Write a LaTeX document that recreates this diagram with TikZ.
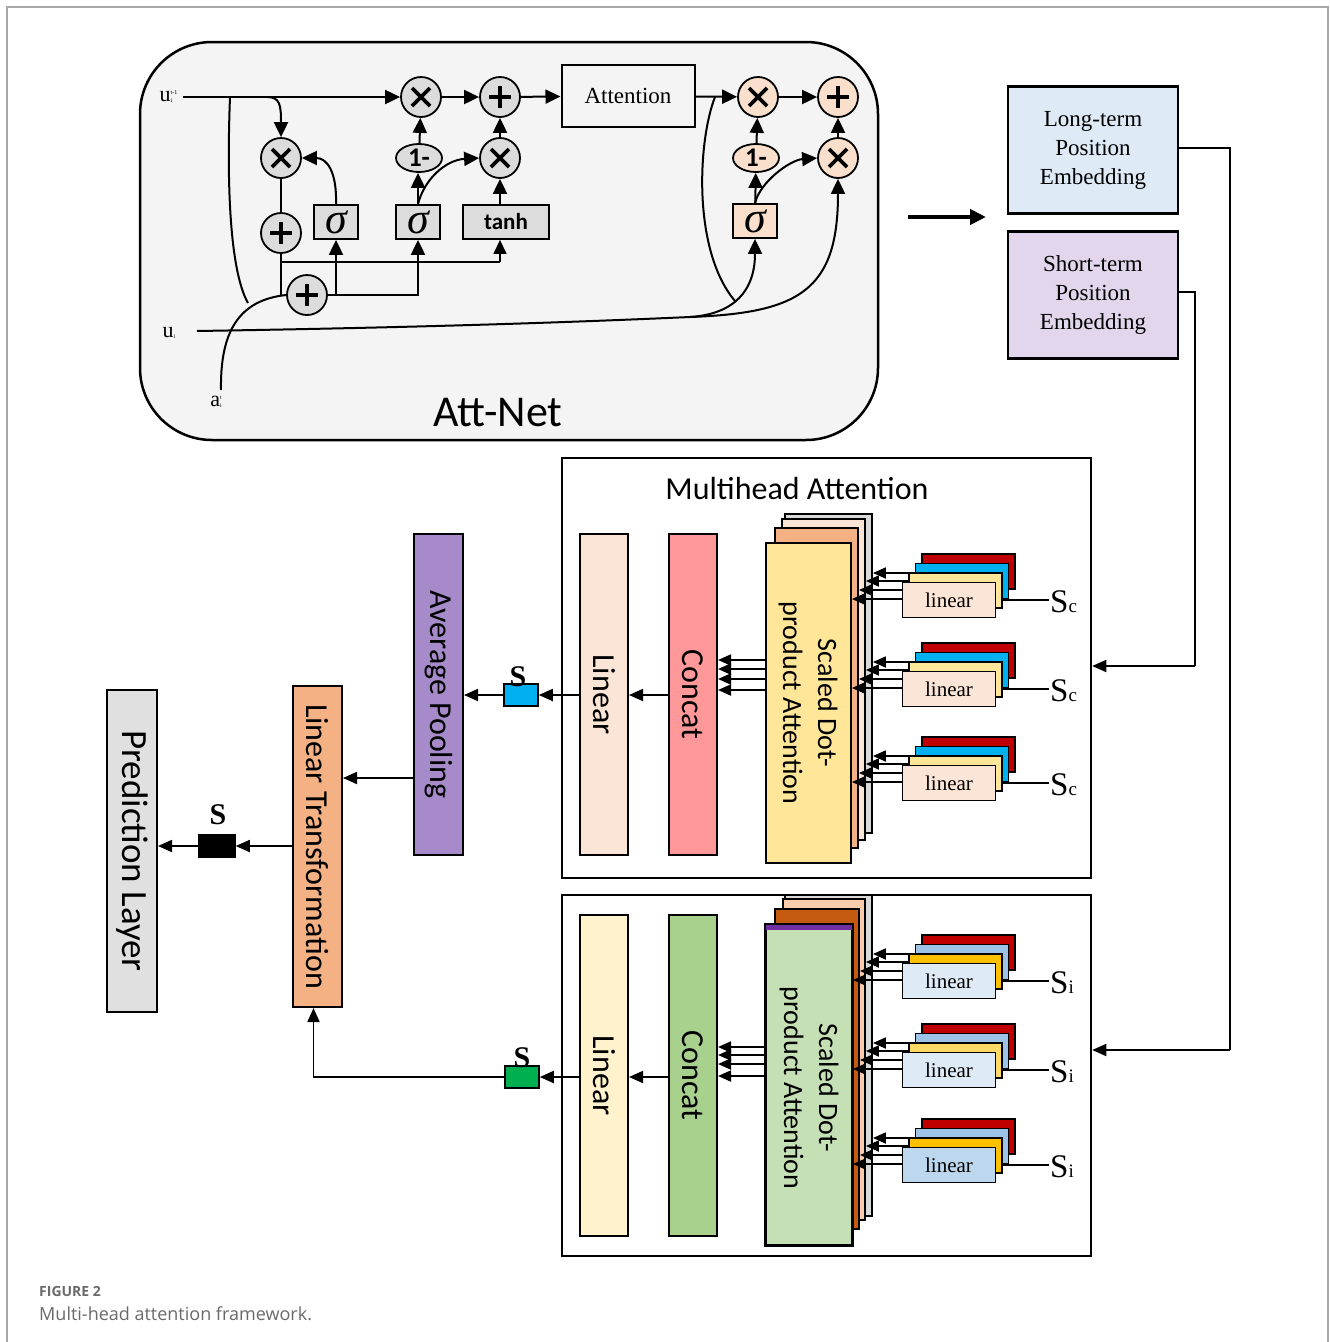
\documentclass[tikz,border=0pt]{standalone}
\usepackage{fontspec}
\setmainfont{Liberation Serif}
\newfontfamily\sff{Carlito}
\newfontfamily\capf{Open Sans}
\usetikzlibrary{shapes.geometric,arrows.meta,calc}
\definecolor{attbg}{HTML}{F4F4F4}
\definecolor{opgray}{HTML}{DCDCDC}
\definecolor{peach}{HTML}{FADFCC}
\definecolor{ltblue}{HTML}{DEEBF7}
\definecolor{stpurple}{HTML}{E2D6EC}
\definecolor{linApk}{HTML}{FBE5D6}
\definecolor{concatA}{HTML}{FF9999}
\definecolor{stgray}{HTML}{D9D9D9}
\definecolor{stpeach}{HTML}{F4B183}
\definecolor{styellow}{HTML}{FFE699}
\definecolor{linB}{HTML}{FFF2CC}
\definecolor{concatB}{HTML}{A9D18E}
\definecolor{stpeachB}{HTML}{F8CBAD}
\definecolor{stbrown}{HTML}{C55A11}
\definecolor{stgreen}{HTML}{C5E0B4}
\definecolor{stviolet}{HTML}{7030A0}
\definecolor{gred}{HTML}{C00000}
\definecolor{gblue}{HTML}{00B0F0}
\definecolor{gblueB}{HTML}{9DC3E6}
\definecolor{ggold}{HTML}{FFC000}
\definecolor{ggoldL}{HTML}{FFD966}
\definecolor{gfrontB}{HTML}{DEEBF7}
\definecolor{gfrontB3}{HTML}{BDD7EE}
\definecolor{avgp}{HTML}{A68AC9}
\definecolor{predg}{HTML}{E0E0E0}
\definecolor{sblue}{HTML}{00B0F0}
\definecolor{sgreen}{HTML}{00B050}
\definecolor{capgray}{HTML}{6A6A6A}
\definecolor{framegray}{HTML}{A8A8A8}

\tikzset{
  every node/.style={inner sep=0pt},
  opc/.style={circle, draw, line width=1.8pt, minimum size=40pt, fill=opgray},
  mulop/.style={opc, path picture={\draw[line width=3.8pt]
      ([shift={(-9pt,-9pt)}]path picture bounding box.center) -- ([shift={(9pt,9pt)}]path picture bounding box.center)
      ([shift={(-9pt,9pt)}]path picture bounding box.center) -- ([shift={(9pt,-9pt)}]path picture bounding box.center);}},
  addop/.style={opc, path picture={\draw[line width=3.4pt]
      ([shift={(-11pt,0pt)}]path picture bounding box.center) -- ([shift={(11pt,0pt)}]path picture bounding box.center)
      ([shift={(0pt,-11pt)}]path picture bounding box.center) -- ([shift={(0pt,11pt)}]path picture bounding box.center);}},
  gate/.style={draw, line width=1.8pt, fill=opgray, minimum width=44pt, minimum height=34pt, font=\fontsize{44}{44}\selectfont\itshape},
  onem/.style={ellipse, draw, line width=1.8pt, fill=opgray, minimum width=46pt, minimum height=28pt, font=\sff\bfseries\fontsize{27}{27}\selectfont},
  aarr/.style={-{Triangle[length=15pt,width=14pt]}, line width=2pt},
  thinl/.style={line width=1.1pt},
  curv/.style={line width=2pt},
  marr/.style={-{Triangle[length=14pt,width=12pt]}, line width=1.8pt},
  sarr/.style={-{Triangle[length=13pt,width=11pt]}, line width=1.8pt},
  vbox/.style={draw, line width=2pt, minimum width=48pt, minimum height=321pt},
  vlabel/.style={rotate=-90, font=\sff\fontsize{32}{32}\selectfont},
  stk/.style={draw, line width=1.8pt},
  lay/.style={draw, line width=1.8pt, minimum width=93pt, minimum height=35pt, font=\fontsize{21}{21}\selectfont},
  embox/.style={draw, line width=2.5pt, minimum width=170pt, minimum height=127pt, align=center, font=\fontsize{23}{29}\selectfont},
  sbox/.style={draw, line width=1.5pt, minimum width=34pt, minimum height=22pt},
  slabel/.style={font=\fontsize{30}{30}\selectfont\bfseries},
}

% #1 name, #2 cy, #3 red, #4 blue, #5 yellow, #6 front, #7 stack prefix, #8 subscript
\newcommand\lingroup[8]{%
  \coordinate (#1a) at (921,{#2-27});
  \coordinate (#1b) at (915,{#2-19});
  \coordinate (#1c) at (908,{#2-10});
  \coordinate (#1d) at (903,{#2-1});
  \draw[sarr] (#1a) -- (#1a -| #7a.east);
  \draw[sarr] (#1b) -- (#1b -| #7b.east);
  \draw[sarr] (#1c) -- (#1c -| #7c.east);
  \draw[sarr] (#1d) -- (#1d -| #7d.east);
  \node[lay, fill=#3] (#1r) at (968.5,{#2-28.5}) {};
  \node[lay, fill=#4] (#1u) at (962,{#2-19}) {};
  \node[lay, fill=#5] (#1y) at (955.5,{#2-9.5}) {};
  \node[lay, fill=#6] (#1f) at (949,#2) {linear};
  \coordinate (#1s) at (1049,#2);
  \draw[thinl] (#1s) -- (#1s -| #1y.east);
  \node[anchor=west] (#1lbl) at (1050,{#2+2}) {{\fontsize{33}{33}\selectfont S}{\fontsize{19}{19}\selectfont #8}};
}

\begin{document}
\begin{tikzpicture}[x=1pt,y=-1pt]
\useasboundingbox (0,0) rectangle (1330,1342);
\fill[white] (0,0) rectangle (1330,1342);
\draw[framegray, line width=1.5pt] (7,1342) -- (7,7) -- (1328,7) -- (1328,1342);

% ================= Att-Net =================
\node[draw, line width=2.5pt, rounded corners=72pt, fill=attbg, minimum width=738pt, minimum height=398pt] (attnet) at (509,241) {};
\node[font=\sff\fontsize{44}{44}\selectfont] (attlbl) at (498,413) {Att-Net};

\node[mulop] (m1) at (421,97) {};
\node[addop] (p1) at (500,97) {};
\node[draw, line width=2pt, minimum width=133pt, minimum height=62pt, font=\fontsize{23}{23}\selectfont] (att) at (628,96) {Attention};
\node[mulop, fill=peach] (pm1) at (758,97) {};
\node[addop, fill=peach] (pp1) at (838,97) {};
\node[mulop] (m2) at (281,158) {};
\node[onem] (om) at (419,158) {1-};
\node[mulop] (m3) at (500,158) {};
\node[onem, fill=peach] (pom) at (756,158) {1-};
\node[mulop, fill=peach] (pm2) at (838,158) {};
\node[addop] (p2) at (281,233) {};
\node[gate] (s1) at (336,222) {σ};
\node[gate] (s2) at (418,222) {σ};
\node[gate, minimum width=86pt, font=\sff\bfseries\fontsize{23}{23}\selectfont] (th) at (506,222) {tanh};
\node[gate, fill=peach] (ps) at (755,221) {σ};
\node[addop] (p3) at (307,295) {};

\node (uprev) at (166,97) {{\fontsize{22}{22}\selectfont u}\rlap{\raisebox{7pt}{\fontsize{6}{6}\selectfont t-1}}\raisebox{-1pt}{\fontsize{6}{6}\selectfont i}};
\node (uil) at (169,333) {{\fontsize{22}{22}\selectfont u}\raisebox{-1pt}{\fontsize{6}{6}\selectfont i}};
\node (atl) at (216,402) {{\fontsize{22}{22}\selectfont a}\rlap{\raisebox{7pt}{\fontsize{6}{6}\selectfont t}}\raisebox{-1pt}{\fontsize{6}{6}\selectfont i}};

\coordinate (uin) at (183,97);
\coordinate (b1) at (230,97);
\coordinate (b2) at (267,97);
\coordinate (j1) at (248,303);
\coordinate (ain) at (221,390);
\coordinate (uiin) at (197,331);
\coordinate (j2) at (690,317);
\coordinate (b3) at (715,97);
\coordinate (j3) at (735,301);
\coordinate (h1) at (281,262);

\draw[aarr] (uin) -- (m1);
\draw[aarr] (b2) .. controls (280,97) and (281,105) .. (m2.north);
\draw[aarr] (m1) -- (p1);
\draw[aarr] (p1) -- (att);
\draw[aarr] (att) -- (pm1);
\draw[aarr] (pm1) -- (pp1);
\draw[aarr] (m3) -- (p1);
\draw[aarr] (om) -- (m1);
\draw[aarr] (s2.north) -- (s2.north |- om.south);
\draw[aarr] (s2.north) .. controls (424,180) and (445,160) .. (m3.west);
\draw[aarr] (m3.south |- th.north) -- (m3.south);
\draw[aarr] (s1.north) .. controls (337,172) and (327,158) .. (m2.east);
\draw[thinl] (m2.south) -- (p2.north);
\draw[thinl] (p2.south) -- (p2.south |- p3.west);
\draw[thinl] (h1) -- (h1 -| m3);
\draw[-{Triangle[length=14pt,width=13pt]}, line width=1.3pt] (h1 -| m3) -- (m3 |- th.south);
\draw[aarr] (p3.east) -| (s2.south);
\draw[aarr] (s1.south |- p3.east) -- (s1.south);
\draw[curv] (b1) .. controls (226,200) and (232,275) .. (j1);
\draw[curv] (ain) .. controls (220,330) and (240,300) .. (p3.west);
\draw[aarr] (uiin) .. controls (450,327) and (600,321) .. (j2) .. controls (800,313) and (838,290) .. (pm2.south);
\draw[aarr] (j2) .. controls (735,314) and (755,290) .. (ps.south);
\draw[curv] (b3) .. controls (698,140) and (692,250) .. (j3);
\draw[aarr] (ps) -- (pom);
\draw[aarr] (pom) -- (pm1);
\draw[aarr] (ps.north) .. controls (760,182) and (790,160) .. (pm2.west);
\draw[aarr] (pm2) -- (pp1);

% big arrow
\coordinate (ba1) at (908,217);
\coordinate (ba2) at (986,217);
\draw[-{Triangle[length=16pt,width=15pt]}, line width=4pt] (ba1) -- (ba2);

% embeddings
\node[embox, fill=ltblue] (lte) at (1093,150) {Long-term\\Position\\Embedding};
\node[embox, fill=stpurple] (ste) at (1093,295) {Short-term\\Position\\Embedding};

% ================= MHA boxes =================
\node[draw, line width=2.5pt, minimum width=529pt, minimum height=420pt] (mha1) at (826.5,668) {};
\node[draw, line width=2.5pt, minimum width=529pt, minimum height=361pt] (mha2) at (826.5,1075.5) {};
\node[font=\sff\fontsize{32}{32}\selectfont] (mhat) at (797,488) {Multihead Attention};

% stacks MHA1
\node[stk, fill=stgray, minimum width=87pt, minimum height=319pt] (sAa) at (828.5,673.5) {};
\node[stk, fill=linApk, minimum width=83pt, minimum height=321pt] (sAb) at (823.5,679.5) {};
\node[stk, fill=stpeach, minimum width=83pt, minimum height=320pt] (sAc) at (816.5,688) {};
\node[stk, fill=styellow, minimum width=85pt, minimum height=320pt] (sAd) at (808.5,703) {};
\node[vlabel, align=center, font=\sff\fontsize{28}{35}\selectfont] (sAt) at (808,703) {Scaled Dot-\\product Attention};

% stacks MHA2
\node[stk, fill=stgray, minimum width=87pt, minimum height=321pt] (sBa) at (828.5,1055.5) {};
\node[stk, fill=stpeachB, minimum width=82pt, minimum height=321pt] (sBb) at (824,1059.5) {};
\node[stk, fill=stbrown, minimum width=84pt, minimum height=320pt] (sBc) at (817,1069) {};
\node[stk, fill=stgreen, minimum width=86pt, minimum height=320pt] (sBd) at (809,1085) {};
\fill[stviolet] (sBd.north west) rectangle ([yshift=-6pt]sBd.north east);
\draw[line width=1.8pt] (sBd.north west) rectangle (sBd.south east);
\node[vlabel, align=center, font=\sff\fontsize{28}{35}\selectfont] (sBt) at (809,1088) {Scaled Dot-\\product Attention};

% linear groups
\lingroup{gA1}{600}{gred}{gblue}{styellow}{linApk}{sA}{c}
\lingroup{gA2}{689}{gred}{gblue}{styellow}{linApk}{sA}{c}
\lingroup{gA3}{783}{gred}{gblue}{styellow}{linApk}{sA}{c}
\lingroup{gB1}{981}{gred}{gblueB}{ggold}{gfrontB}{sB}{i}
\lingroup{gB2}{1070}{gred}{gblueB}{ggoldL}{gfrontB}{sB}{i}
\lingroup{gB3}{1165}{gred}{gblueB}{ggold}{gfrontB3}{sB}{i}

% Linear / Concat
\node[vbox, fill=linApk] (lA) at (604,694.5) {};
\node[vlabel] (lAt) at (lA) {Linear};
\node[vbox, fill=concatA] (cA) at (693,694.5) {};
\node[vlabel] (cAt) at (cA) {Concat};
\node[vbox, fill=linB] (lB) at (604,1075.5) {};
\node[vlabel] (lBt) at (lB) {Linear};
\node[vbox, fill=concatB] (cB) at (693,1075.5) {};
\node[vlabel] (cBt) at (cB) {Concat};

% concat inputs
\coordinate (kA1) at (766,660);
\coordinate (kA2) at (766,669);
\coordinate (kA3) at (766,679);
\coordinate (kA4) at (766,690);
\coordinate (kB1) at (766,1047);
\coordinate (kB2) at (766,1055);
\coordinate (kB3) at (766,1064);
\coordinate (kB4) at (766,1076);
\foreach \c in {kA1,kA2,kA3,kA4,kB1,kB2,kB3,kB4} {\draw[sarr] (\c) -- (\c -| cA.east);}

% S boxes
\node[sbox, fill=sblue] (sb) at (521,695) {};
\node[slabel] (sbl) at (518,677) {S};
\node[sbox, fill=sgreen] (sg) at (522,1077) {};
\node[slabel] (sgl) at (522,1058) {S};
\node[sbox, fill=black, minimum width=36pt, minimum height=23pt] (sk) at (217,846) {};
\node[slabel] (skl) at (218,815) {S};

\draw[marr] (cA.west |- sb) -- (lA.east |- sb);
\draw[marr] (lA.west |- sb) -- (sb.east);
\draw[marr] (cB.west |- sg) -- (lB.east |- sg);
\draw[marr] (lB.west |- sg) -- (sg.east);

% left column
\node[vbox, fill=avgp, minimum width=49pt] (ap) at (438.5,694.5) {};
\node[vlabel, font=\sff\fontsize{32}{32}\selectfont] (apt) at (ap) {Average Pooling};
\node[vbox, fill=stpeach, minimum width=49pt] (ltr) at (317.5,846.5) {};
\node[vlabel, font=\sff\fontsize{32}{32}\selectfont] (ltrt) at (ltr) {Linear Transformation};
\node[vbox, fill=predg, minimum width=50pt, minimum height=322pt] (pred) at (132,851) {};
\node[vlabel, font=\sff\fontsize{37}{37}\selectfont] (predt) at (pred) {Prediction Layer};

\draw[marr] (sb.west) -- (sb.west -| ap.east);
\coordinate (yap) at (400,778);
\draw[marr] (ap.west |- yap) -- (ltr.east |- yap);
\draw[marr] (sg.west) -| ([xshift=-4pt]ltr.south);
\draw[marr] (ltr.west |- sk) -- (sk.east);
\draw[marr] (sk.west) -- (sk.west -| pred.east);

% embedding connectors
\coordinate (c1) at (1230,1050);
\coordinate (c2) at (1195,666);
\draw[thinl] (lte.east |- 0,148) -| (c1);
\draw[marr] (c1) -- (c1 -| mha2.east);
\draw[thinl] (ste.east |- 0,292) -| (c2);
\draw[marr] (c2) -- (c2 -| mha1.east);

% caption
\node[anchor=west, text=capgray, font=\capf\bfseries\fontsize{14}{14}\selectfont] (cap1) at (39,1291) {FIGURE 2};
\node[anchor=west, text=capgray, font=\capf\fontsize{18}{18}\selectfont] (cap2) at (39,1314) {Multi-head attention framework.};
\end{tikzpicture}
\end{document}
